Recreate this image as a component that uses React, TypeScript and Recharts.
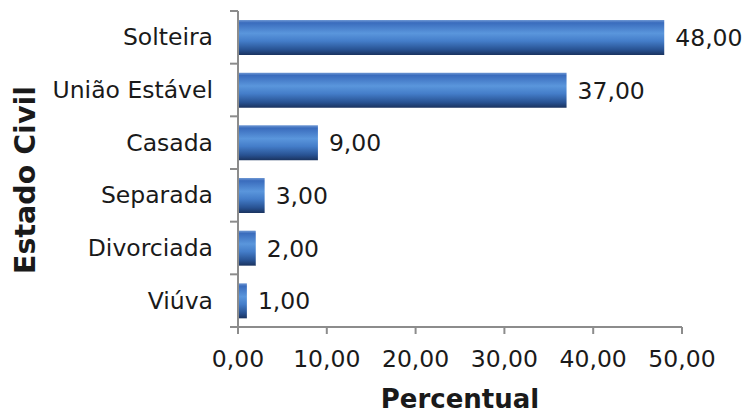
import React from 'react';
import { BarChart, Bar, XAxis, YAxis, LabelList, Label } from 'recharts';

// Estado civil das participantes (percentual)
const categories = ['Solteira', 'União Estável', 'Casada', 'Separada', 'Divorciada', 'Viúva'];
const percentual = [48, 37, 9, 3, 2, 1];
const xTicks = [0, 10, 20, 30, 40, 50];

const data = categories.map((estado, i) => ({ estado, valor: percentual[i] }));

const W = 747;
const H = 415;
const MARGIN = { top: 11, right: 65, bottom: 0, left: 0 };
const X_AXIS_H = 88;
const Y_AXIS_W = 238;
const FONT = '"DejaVu Sans", Verdana, sans-serif';
const TEXT = '#1a1a1a';
const AXIS = '#8c8c8c';
const FS = 23.5;

const plotH = H - MARGIN.top - MARGIN.bottom - X_AXIS_H;
const band = plotH / categories.length;

const fmt = (v: number) => v.toFixed(2).replace('.', ',');

// Category label plus boundary tick marks between bands
const CategoryTick = (props: any) => {
  const { x, y, payload, index } = props;
  const top = y - band / 2;
  const bottom = y + band / 2;
  return (
    <g>
      <line x1={x - 8} x2={x} y1={top} y2={top} stroke={AXIS} strokeWidth={2} />
      {index === categories.length - 1 && (
        <line x1={x - 8} x2={x} y1={bottom} y2={bottom} stroke={AXIS} strokeWidth={2} />
      )}
      <text
        x={x - 25}
        y={y}
        textAnchor="end"
        dominantBaseline="central"
        fontFamily={FONT}
        fontSize={FS}
        fill={TEXT}
      >
        {payload.value}
      </text>
    </g>
  );
};

export default function App() {
  return (
    <div style={{ position: 'absolute', left: 0, top: 0, background: '#fff' }}>
      <BarChart
        width={W}
        height={H}
        data={data}
        layout="vertical"
        margin={MARGIN}
        barSize={35}
      >
        <defs>
          <linearGradient id="barFill" x1="0" y1="0" x2="0" y2="1">
            <stop offset="0%" stopColor="#6f98d4" />
            <stop offset="8%" stopColor="#3a6cbd" />
            <stop offset="38%" stopColor="#5a96dc" />
            <stop offset="60%" stopColor="#447dc9" />
            <stop offset="85%" stopColor="#285292" />
            <stop offset="100%" stopColor="#1a335f" />
          </linearGradient>
        </defs>
        <XAxis
          type="number"
          domain={[0, 50]}
          ticks={xTicks}
          tickFormatter={fmt}
          height={X_AXIS_H}
          stroke={AXIS}
          strokeWidth={2}
          tickSize={7}
          tickMargin={16}
          tick={{ fontFamily: FONT, fontSize: FS, fill: TEXT }}
          tickLine={{ stroke: AXIS, strokeWidth: 2 }}
        >
          <Label
            content={({ viewBox }: any) => (
              <text
                x={viewBox.x + viewBox.width / 2}
                y={viewBox.y + 81}
                textAnchor="middle"
                fontFamily={FONT}
                fontSize={26}
                fontWeight="bold"
                fill={TEXT}
              >
                Percentual
              </text>
            )}
          />
        </XAxis>
        <YAxis
          type="category"
          dataKey="estado"
          width={Y_AXIS_W}
          stroke={AXIS}
          strokeWidth={2}
          tickLine={false}
          tickSize={0}
          tickMargin={0}
          interval={0}
          tick={<CategoryTick />}
        >
          <Label
            content={() => (
              <text
                x={25}
                y={180}
                transform="rotate(-90 25 180)"
                textAnchor="middle"
                dominantBaseline="central"
                fontFamily={FONT}
                fontSize={28.5}
                fontWeight="bold"
                fill={TEXT}
              >
                Estado Civil
              </text>
            )}
          />
        </YAxis>
        <Bar dataKey="valor" fill="url(#barFill)" isAnimationActive={false}>
          <LabelList
            dataKey="valor"
            position="right"
            offset={11}
            formatter={(v: any) => fmt(Number(v))}
            style={{ fontFamily: FONT, fontSize: FS, fill: TEXT }}
          />
        </Bar>
      </BarChart>
    </div>
  );
}
